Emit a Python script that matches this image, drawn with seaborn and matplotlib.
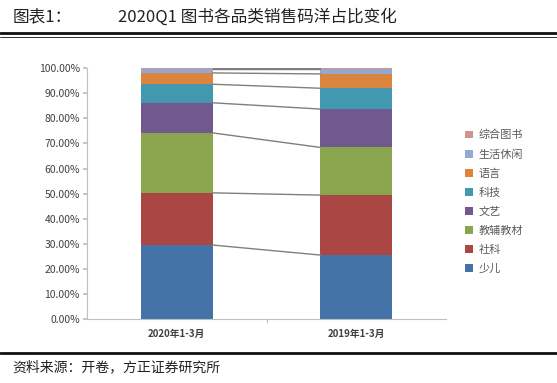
import numpy as np
import pandas as pd
import matplotlib
matplotlib.use("Agg")
import matplotlib.pyplot as plt
import seaborn as sns
from matplotlib.lines import Line2D
from matplotlib.patches import Patch

# Data (shares in %)
periods = ["2020年1-3月", "2019年1-3月"]
categories = ["少儿", "社科", "教辅教材", "文艺", "科技", "语言", "生活休闲", "综合图书"]
share_2020 = [29.5, 20.8, 23.9, 12.0, 7.4, 4.5, 1.5, 0.4]
share_2019 = [25.5, 23.9, 19.0, 15.3, 8.3, 5.7, 1.9, 0.4]
colors = ["#4572A7", "#AA4643", "#89A54E", "#71588F", "#4198AF", "#DB843D", "#93A9CF", "#D19392"]

sns.set_theme(style="white")
plt.rcParams["font.family"] = ["Noto Sans CJK SC", "DejaVu Sans"]

df = pd.DataFrame({"2020年1-3月": share_2020, "2019年1-3月": share_2019}, index=categories)
cum = df.cumsum() / 100.0

fig = plt.figure(figsize=(5.57, 3.83), dpi=100)
ax = fig.add_axes([0.156, 0.167, 0.645, 0.655])

bar_w = 0.4
# draw from top layer to bottom so that lower segments cover the taller ones
for cat, col in reversed(list(zip(categories, colors))):
    layer = pd.DataFrame({"period": periods, "value": cum.loc[cat, periods].values})
    sns.barplot(data=layer, x="period", y="value", order=periods, color=col,
                width=bar_w, saturation=1, edgecolor="none", ax=ax)

# connector lines between segment tops
for cat in categories:
    ax.plot([bar_w / 2, 1 - bar_w / 2], [cum.loc[cat, periods[0]], cum.loc[cat, periods[1]]],
            color="#7f7f7f", lw=1.0, zorder=3)

ax.set_xlim(-0.5, 1.5)
ax.set_ylim(0, 1.0)
ax.set_yticks(np.arange(0, 1.01, 0.1))
ax.set_yticklabels([f"{v:.2f}%" for v in np.arange(0, 101, 10)])
ax.set_xlabel("")
ax.set_ylabel("")
ax.set_xticks([0, 1])
ax.set_xticklabels(periods, fontsize=7, fontweight="bold", color="#404040")
ax.tick_params(axis="x", length=0, pad=7)
ax.tick_params(axis="y", labelsize=7.5, colors="#404040", length=3, direction="out", left=True,
               color="#bfbfbf", pad=2)
for s in ["top", "right"]:
    ax.spines[s].set_visible(False)
ax.spines["left"].set_color("#bfbfbf")
ax.spines["bottom"].set_color("#bfbfbf")
ax.spines["left"].set_linewidth(0.8)
ax.spines["bottom"].set_linewidth(0.8)
# category separator tick
ax.plot([0.5, 0.5], [0, -0.012], color="#bfbfbf", lw=0.8, clip_on=False)

handles = [Patch(facecolor=c, edgecolor="none") for c in reversed(colors)]
leg = fig.legend(handles, list(reversed(categories)), loc="upper left",
                 bbox_to_anchor=(0.817, 0.687), frameon=False, fontsize=8,
                 handlelength=0.7, handleheight=0.7, labelspacing=0.8, handletextpad=0.5)
for t in leg.get_texts():
    t.set_color("#595959")

# header and footer
fig.text(0.022, 0.955, "图表1：", fontsize=12, color="#222222", va="center")
fig.text(0.212, 0.955, "2020Q1 图书各品类销售码洋占比变化", fontsize=12, color="#222222", va="center")
fig.add_artist(Line2D([0.0, 1.0], [0.914, 0.914], color="#111111", lw=2.0))
fig.add_artist(Line2D([0.0, 1.0], [0.904, 0.904], color="#111111", lw=0.6))
fig.add_artist(Line2D([0.0, 1.0], [0.079, 0.079], color="#111111", lw=2.0))
fig.text(0.022, 0.042, "资料来源：开卷，方正证券研究所", fontsize=10, color="#222222",
         style="italic", va="center")

fig.savefig("out.png", dpi=100)
